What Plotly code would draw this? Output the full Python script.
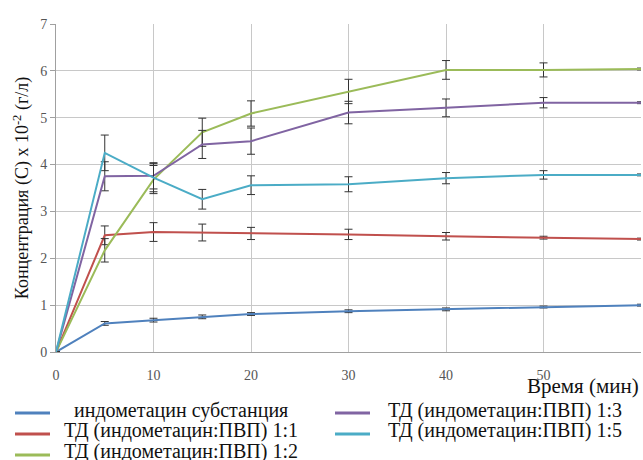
import plotly.graph_objects as go

time_min = [0, 5, 10, 15, 20, 30, 40, 50, 60]

names = [
    "индометацин субстанция",
    "ТД (индометацин:ПВП) 1:1",
    "ТД (индометацин:ПВП) 1:2",
    "ТД (индометацин:ПВП) 1:3",
    "ТД (индометацин:ПВП) 1:5",
]

conc_substance = [0, 0.61, 0.68, 0.75, 0.81, 0.87, 0.91, 0.96, 1.00]
err_substance = [0, 0.04, 0.04, 0.04, 0.03, 0.03, 0.03, 0.02, 0.02]

conc_1_1 = [0, 2.49, 2.56, 2.55, 2.53, 2.51, 2.47, 2.44, 2.41]
err_1_1 = [0, 0.20, 0.20, 0.18, 0.13, 0.11, 0.08, 0.03, 0.02]

conc_1_2 = [0, 2.17, 3.68, 4.69, 5.09, 5.56, 6.02, 6.02, 6.04]
err_1_2 = [0, 0.25, 0.30, 0.30, 0.27, 0.26, 0.20, 0.15, 0.02]

conc_1_3 = [0, 3.75, 3.76, 4.43, 4.50, 5.11, 5.21, 5.32, 5.32]
err_1_3 = [0, 0.31, 0.28, 0.30, 0.28, 0.24, 0.19, 0.11, 0.02]

conc_1_5 = [0, 4.25, 3.72, 3.26, 3.56, 3.58, 3.71, 3.78, 3.78]
err_1_5 = [0, 0.38, 0.30, 0.21, 0.20, 0.16, 0.12, 0.09, 0.02]

colors = ["#4F81BD", "#C0504D", "#9BBB59", "#8064A2", "#4BACC6"]

values = [conc_substance, conc_1_1, conc_1_2, conc_1_3, conc_1_5]
errors = [err_substance, err_1_1, err_1_2, err_1_3, err_1_5]

FONT = "Liberation Serif, Times New Roman, serif"

W, H = 643, 460
ML, MR, MT, MB = 56, 2, 24, 108
PW, PH = W - ML - MR, H - MT - MB


def px_to_paper(px, py):
    return (px - ML) / PW, (H - MB - py) / PH


fig = go.Figure()
for name, y, e, c in zip(names, values, errors, colors):
    fig.add_trace(go.Scatter(
        x=time_min, y=y, name=name, mode="lines",
        line=dict(color=c, width=2),
        error_y=dict(type="data", array=e, visible=True,
                     color="#333333", thickness=1, width=4),
        showlegend=False,
    ))

# manual legend (two columns, centred text like the original)
legend_slots = [(0, 0), (0, 1), (0, 2), (1, 0), (1, 1)]  # (column, row)
col_line_x = [(15, 50), (335, 370)]
col_text_cx = [181, 505]
row_text_y = [410, 430, 451]
row_line_y = [413, 434, 455]

shapes = []
annotations = []
for (col, row), name, c in zip(legend_slots, names, colors):
    x0, ly = px_to_paper(col_line_x[col][0], row_line_y[row])
    x1, _ = px_to_paper(col_line_x[col][1], row_line_y[row])
    shapes.append(dict(type="line", xref="paper", yref="paper",
                       x0=x0, x1=x1, y0=ly, y1=ly,
                       line=dict(color=c, width=3)))
    tx, ty = px_to_paper(col_text_cx[col], row_text_y[row])
    annotations.append(dict(text=name, xref="paper", yref="paper",
                            x=tx, y=ty, xanchor="center", yanchor="middle",
                            showarrow=False,
                            font=dict(family=FONT, size=20, color="#111111")))

tx, ty = px_to_paper(641, 386)
annotations.append(dict(
    text="Время (мин)", xref="paper", yref="paper",
    x=tx, y=ty, xanchor="right", yanchor="middle", showarrow=False,
    font=dict(family=FONT, size=21, color="#111111"),
))

fig.update_layout(
    width=W, height=H,
    margin=dict(l=ML, r=MR, t=MT, b=MB),
    paper_bgcolor="white", plot_bgcolor="white",
    font=dict(family=FONT, color="#222222"),
    showlegend=False,
    xaxis=dict(
        range=[0, 60], tickvals=[0, 10, 20, 30, 40, 50, 60],
        showgrid=True, gridcolor="#C8C8C8", gridwidth=1,
        showline=True, linecolor="#A0A0A0", linewidth=1,
        zeroline=False, ticks="", ticklabelstandoff=10,
        tickfont=dict(family=FONT, size=14, color="#555555"),
    ),
    yaxis=dict(
        range=[0, 7], dtick=1,
        showgrid=True, gridcolor="#C8C8C8", gridwidth=1,
        showline=True, linecolor="#A0A0A0", linewidth=1,
        zeroline=False, ticks="outside", ticklen=5, tickcolor="#A0A0A0",
        tickfont=dict(family=FONT, size=14, color="#555555"),
        title=dict(text="Концентрация (С) х 10<sup>-2</sup> (г/л)",
                   font=dict(family=FONT, size=18, color="#111111"),
                   standoff=6),
    ),
    shapes=shapes,
    annotations=annotations,
)

fig.write_html(
    "out.html",
    config={"displayModeBar": False},
    post_script="document.body.style.margin='0';document.body.style.overflow='hidden';",
)
